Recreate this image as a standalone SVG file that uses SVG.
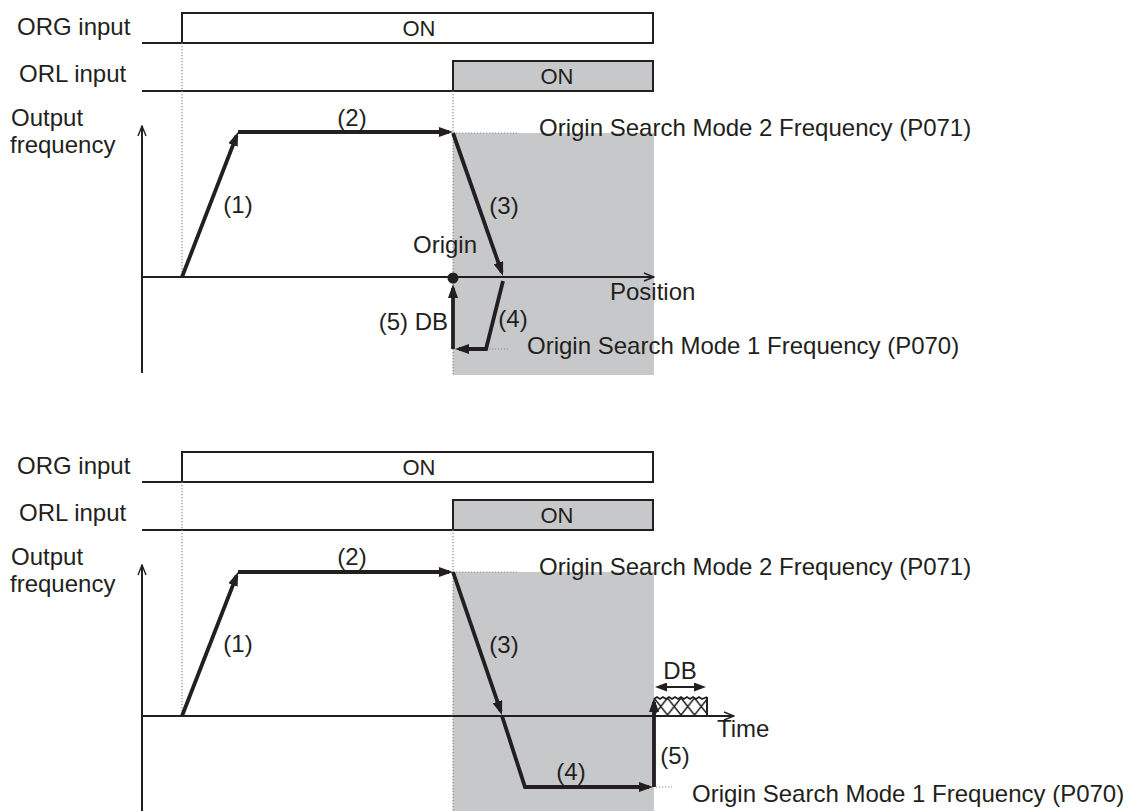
<svg xmlns="http://www.w3.org/2000/svg" width="1132" height="811" viewBox="0 0 1132 811">
<style>
text{font-family:"Liberation Sans",Arial,sans-serif;font-size:24px;fill:#231f20}
.on{font-size:22px}
.mid{text-anchor:middle}
.end{text-anchor:end}
.box{fill:#fff;stroke:#231f20;stroke-width:2}
.boxg{fill:#c7c8ca;stroke:#231f20;stroke-width:2}
.gray{fill:#c7c8ca}
.base{stroke:#231f20;stroke-width:2;fill:none}
.dot{stroke:#8a8a8a;stroke-width:1.2;stroke-dasharray:1.2 1.8;fill:none}
.axis{stroke:#231f20;stroke-width:2;fill:none;marker-end:url(#open)}
.thick{stroke:#231f20;stroke-width:3.8;fill:none;stroke-linejoin:miter}
.arr{marker-end:url(#solid)}
</style>
<defs>
<marker id="solid" viewBox="0 0 14 10" refX="10" refY="5" markerWidth="14" markerHeight="10" markerUnits="userSpaceOnUse" orient="auto">
<path d="M0,0 L14,5 L0,10 z" fill="#231f20"/>
</marker>
<marker id="small" viewBox="0 0 12 9" refX="9" refY="4.5" markerWidth="12" markerHeight="9" markerUnits="userSpaceOnUse" orient="auto-start-reverse">
<path d="M0,0 L12,4.5 L0,9 z" fill="#231f20"/>
</marker>
<marker id="open" viewBox="0 0 12 10" refX="11" refY="5" markerWidth="12" markerHeight="10" markerUnits="userSpaceOnUse" orient="auto">
<path d="M1,1 L11,5 L1,9" fill="none" stroke="#231f20" stroke-width="1.4"/>
</marker>
<pattern id="hatch" x="654" y="698" width="13.5" height="17" patternUnits="userSpaceOnUse">
<path d="M0,0 L13.5,17 M13.5,0 L0,17" stroke="#231f20" stroke-width="1.5" fill="none"/>
</pattern>
</defs>

<!-- ===== Top chart (position) ===== -->
<g id="top-labels">
<text x="17" y="35">ORG input</text>
<text x="19" y="82">ORL input</text>
<text x="11" y="126">Output</text>
<text x="10" y="153">frequency</text>
</g>
<g id="top-org">
<path class="base" d="M142,43 H182"/>
<rect class="box" x="182" y="13" width="471" height="30"/>
<text class="on mid" x="419" y="36">ON</text>
</g>
<g id="top-orl">
<path class="base" d="M142,91 H453"/>
<rect class="boxg" x="453" y="61" width="200" height="30"/>
<text class="on mid" x="557" y="84">ON</text>
</g>
<g id="top-zone">
<rect class="gray" x="453" y="133" width="201" height="242"/>
</g>
<g id="top-guides">
<path class="dot" d="M182,43 V277"/>
<path class="dot" d="M453,91 V375"/>
<path class="dot" d="M453,133 H517"/>
<path class="dot" d="M486,349 H510"/>
</g>
<g id="top-axes">
<path class="axis" d="M142,373 V126"/>
<path class="axis" d="M142,277 H654"/>
<text x="610" y="300">Position</text>
</g>
<g id="top-connectors">
<path class="thick arr" d="M182,277 L236.6,135.7"/>
<path class="thick arr" d="M238,132 H449"/>
<path class="thick arr" d="M453,133 L501.7,272.2"/>
<path class="thick arr" d="M503,281 L486,349 H459"/>
<path class="thick arr" d="M453,349 V288"/>
</g>
<g id="top-origin">
<circle cx="453" cy="278" r="5.5" fill="#231f20"/>
<text x="413" y="253">Origin</text>
</g>
<g id="top-step-labels">
<text class="mid" x="238" y="213">(1)</text>
<text class="mid" x="352" y="126">(2)</text>
<text class="mid" x="504" y="214">(3)</text>
<text class="mid" x="513" y="327">(4)</text>
<text class="end" x="448" y="330">(5) DB</text>
</g>
<g id="top-freq-labels">
<text x="539" y="136">Origin Search Mode 2 Frequency (P071)</text>
<text x="527" y="354">Origin Search Mode 1 Frequency (P070)</text>
</g>

<!-- ===== Bottom chart (time) ===== -->
<g id="bot-labels">
<text x="17" y="474">ORG input</text>
<text x="19" y="521">ORL input</text>
<text x="11" y="565">Output</text>
<text x="10" y="592">frequency</text>
</g>
<g id="bot-org">
<path class="base" d="M142,482 H182"/>
<rect class="box" x="182" y="452" width="471" height="30"/>
<text class="on mid" x="419" y="475">ON</text>
</g>
<g id="bot-orl">
<path class="base" d="M142,530 H453"/>
<rect class="boxg" x="453" y="500" width="200" height="30"/>
<text class="on mid" x="557" y="523">ON</text>
</g>
<g id="bot-zone">
<rect class="gray" x="453" y="572" width="201" height="239"/>
</g>
<g id="bot-guides">
<path class="dot" d="M182,482 V716"/>
<path class="dot" d="M453,530 V811"/>
<path class="dot" d="M453,572 H517"/>
<path class="dot" d="M656,787 H672"/>
</g>
<g id="bot-db">
<rect x="654" y="698" width="53" height="18" fill="url(#hatch)"/>
<path d="M654,699 l3,-2 l3,2 l3,-2 l3,2 l3,-2 l3,2 l3,-2 l3,2 l3,-2 l3,2 l3,-2 l3,2 l3,-2 l3,2 l3,-2 l3,2 l5,-2" stroke="#231f20" stroke-width="1.8" fill="none"/>
<path d="M707,697 V716" stroke="#231f20" stroke-width="2" fill="none"/>
<path d="M658,687 H703" stroke="#231f20" stroke-width="2" fill="none" marker-start="url(#small)" marker-end="url(#small)"/>
<text class="mid" x="680" y="679">DB</text>
</g>
<g id="bot-axes">
<path class="axis" d="M142,811 V565"/>
<path class="axis" d="M142,716 H734"/>
<text x="717" y="737">Time</text>
</g>
<g id="bot-connectors">
<path class="thick arr" d="M182,716 L236.6,575.7"/>
<path class="thick arr" d="M238,572 H449"/>
<path class="thick arr" d="M453,572 L500.7,711.2"/>
<path class="thick arr" d="M502,716 L525,787 H649"/>
<path class="thick arr" d="M654,787 V702"/>
</g>
<g id="bot-step-labels">
<text class="mid" x="238" y="652">(1)</text>
<text class="mid" x="352" y="565">(2)</text>
<text class="mid" x="504" y="653">(3)</text>
<text class="mid" x="571" y="780">(4)</text>
<text class="mid" x="675" y="764">(5)</text>
</g>
<g id="bot-freq-labels">
<text x="539" y="575">Origin Search Mode 2 Frequency (P071)</text>
<text x="692" y="802">Origin Search Mode 1 Frequency (P070)</text>
</g>
</svg>
